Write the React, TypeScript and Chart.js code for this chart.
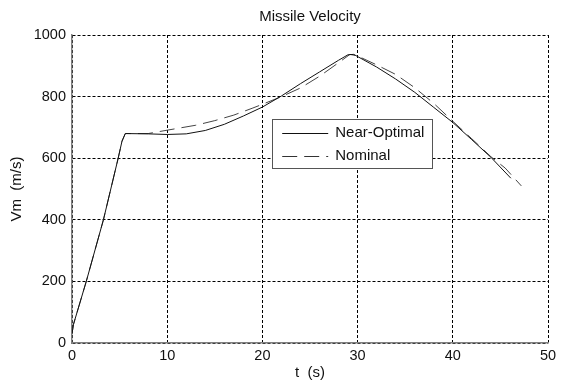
import React, { useEffect, useRef } from "react";
import { Chart, registerables } from "chart.js";

Chart.register(...registerables);

const TITLE = "Missile Velocity";
const X_LABEL = "t  (s)";
const Y_LABEL = "Vm  (m/s)";
const SERIES_NAMES = ["Near-Optimal", "Nominal"];

const X_MIN = 0;
const X_MAX = 50;
const X_STEP = 10;
const Y_MIN = 0;
const Y_MAX = 1000;
const Y_STEP = 200;

const nearT = [0, 0.15, 1.5, 3.3, 4.85, 5.25, 5.6, 8, 10, 12, 14, 16, 18, 20, 22, 24, 26, 28, 29, 29.6, 30, 32, 34, 36, 38, 40, 42, 44, 46.1];
const nearV = [30, 60, 200, 400, 600, 655, 680, 679, 677, 679, 690, 710, 737, 766, 802, 842, 880, 918, 936, 937, 930, 896, 857, 814, 765, 716, 660, 603, 535];

const nomT = [0, 0.15, 1.5, 3.3, 4.85, 5.25, 5.6, 8, 10, 13, 15, 17, 19, 20, 22, 24, 26, 28, 29.2, 30, 32, 34, 36, 38, 40, 42, 44, 45.5, 47.2];
const nomV = [30, 60, 200, 400, 600, 655, 680, 680, 691, 707, 722, 740, 763, 775, 800, 828, 866, 910, 937, 932, 903, 872, 829, 778, 720, 663, 605, 568, 510];

const FONT = '"Liberation Sans", Arial, Helvetica, sans-serif';

const legendPlugin = {
  id: "insideLegend",
  afterDatasetsDraw(chart: any) {
    const { ctx, chartArea } = chart;
    const w = chartArea.right - chartArea.left;
    const h = chartArea.bottom - chartArea.top;
    const bx = chartArea.left + w * 0.4206;
    const by = chartArea.top + h * 0.2727;
    const bw = 160;
    const bh = 49;
    ctx.save();
    ctx.fillStyle = "#ffffff";
    ctx.fillRect(bx, by, bw, bh);
    ctx.strokeStyle = "#555555";
    ctx.lineWidth = 1;
    ctx.strokeRect(Math.round(bx) + 0.5, Math.round(by) + 0.5, bw, bh);
    const rows = [
      { y: by + 14, dash: [] as number[], color: "#111111" },
      { y: by + 37, dash: [15, 7], color: "#333333" },
    ];
    ctx.font = `15px ${FONT}`;
    ctx.textBaseline = "middle";
    ctx.textAlign = "left";
    rows.forEach((r, i) => {
      ctx.beginPath();
      ctx.setLineDash(r.dash);
      ctx.strokeStyle = r.color;
      ctx.lineWidth = 1;
      ctx.moveTo(bx + 10, Math.round(r.y) + 0.5);
      ctx.lineTo(bx + 56, Math.round(r.y) + 0.5);
      ctx.stroke();
      ctx.setLineDash([]);
      ctx.fillStyle = "#111111";
      ctx.fillText(SERIES_NAMES[i], bx + 63, r.y);
    });
    ctx.restore();
  },
};

export default function App() {
  const ref = useRef<HTMLCanvasElement | null>(null);

  useEffect(() => {
    if (!ref.current) return;
    const chart = new Chart(ref.current, {
      type: "line",
      data: {
        datasets: [
          {
            label: SERIES_NAMES[0],
            data: nearT.map((t, i) => ({ x: t, y: nearV[i] })),
            borderColor: "#111111",
            borderWidth: 1,
            pointRadius: 0,
            fill: false,
            tension: 0,
          },
          {
            label: SERIES_NAMES[1],
            data: nomT.map((t, i) => ({ x: t, y: nomV[i] })),
            borderColor: "#444444",
            borderWidth: 1,
            borderDash: [15, 7],
            pointRadius: 0,
            fill: false,
            tension: 0,
          },
        ],
      },
      plugins: [legendPlugin],
      options: {
        animation: false,
        responsive: true,
        maintainAspectRatio: false,
        layout: { padding: { left: 0, right: 14, top: 0, bottom: 0 } },
        plugins: {
          legend: { display: false },
          tooltip: { enabled: false },
          title: {
            display: true,
            fullSize: false,
            text: TITLE,
            color: "#111111",
            font: { family: FONT, size: 15, weight: "normal" },
            padding: { top: 8, bottom: 9 },
          },
        },
        scales: {
          x: {
            type: "linear",
            min: X_MIN,
            max: X_MAX,
            ticks: {
              stepSize: X_STEP,
              color: "#111111",
              font: { family: FONT, size: 14.5 },
              padding: 4,
              maxRotation: 0,
              callback: (v: any) => String(v),
            },
            grid: { color: "#000000", lineWidth: 1, drawTicks: false },
            border: { display: true, color: "#808080", width: 1.5, dash: [3, 2] },
            title: {
              display: true,
              text: X_LABEL,
              color: "#111111",
              font: { family: FONT, size: 15 },
              padding: { top: 0, bottom: 3 },
            },
            afterFit: (s: any) => {
              s.height = 42;
            },
          },
          y: {
            type: "linear",
            min: Y_MIN,
            max: Y_MAX,
            ticks: {
              stepSize: Y_STEP,
              color: "#111111",
              font: { family: FONT, size: 14.5 },
              padding: 6,
              callback: (v: any) => String(v),
            },
            grid: { color: "#000000", lineWidth: 1, drawTicks: false },
            border: { display: true, color: "#808080", width: 1.5, dash: [3, 2] },
            title: {
              display: true,
              text: Y_LABEL,
              color: "#111111",
              font: { family: FONT, size: 15 },
              padding: { top: 8, bottom: 0 },
            },
            afterFit: (s: any) => {
              s.width = 72;
            },
          },
        },
      },
    });
    return () => chart.destroy();
  }, []);

  return (
    <div style={{ position: "absolute", left: 0, top: 0, width: 562, height: 385, background: "#ffffff" }}>
      <canvas ref={ref} />
    </div>
  );
}
